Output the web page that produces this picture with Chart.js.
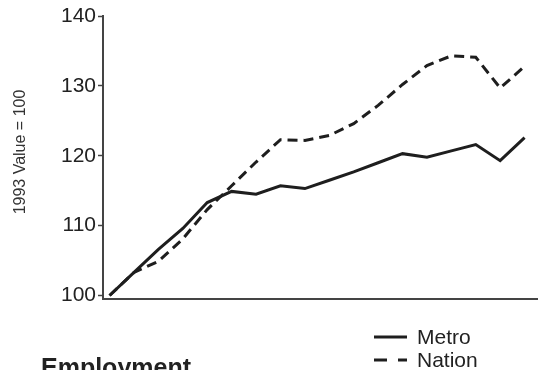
<!DOCTYPE html>
<html>
<head>
<meta charset="utf-8">
<script src="https://cdn.jsdelivr.net/npm/chart.js@4"></script>
<style>
  html, body { margin: 0; padding: 0; background: #ffffff; }
  #wrap { width: 538px; height: 370px; position: relative; overflow: hidden; }
</style>
</head>
<body>
<div id="wrap"><canvas id="c" width="538" height="370"></canvas></div>
<script>
const years = [1993, 1994, 1995, 1996, 1997, 1998, 1999, 2000, 2001, 2002, 2003, 2004, 2005, 2006, 2007, 2008, 2009, 2010];
const metro = [100, 103.3, 106.6, 109.6, 113.3, 114.9, 114.5, 115.7, 115.3, 116.5, 117.7, 119.0, 120.3, 119.8, 120.7, 121.6, 119.3, 122.6];
const nation = [100, 103.3, 104.9, 108.1, 112.3, 115.7, 119.1, 122.3, 122.2, 122.9, 124.6, 127.2, 130.2, 132.9, 134.3, 134.1, 129.7, 132.8];
const yTicks = [100, 110, 120, 130, 140];
const seriesNames = ['Metro', 'Nation'];
const chartTitle = 'Employment';
const yAxisTitle = '1993 Value = 100';

const INK = '#1e1e1e';
const FONT = "'Liberation Sans', Arial, Helvetica, sans-serif";

const annotPlugin = {
  id: 'annot',
  afterDraw(chart) {
    const ctx = chart.ctx;
    ctx.save();
    // y axis title
    ctx.save();
    ctx.translate(21, 152);
    ctx.rotate(-Math.PI / 2);
    ctx.fillStyle = '#333';
    ctx.font = '16px ' + FONT;
    ctx.textAlign = 'center';
    ctx.textBaseline = 'middle';
    ctx.fillText(yAxisTitle, 0, 0);
    ctx.restore();
    // legend
    const legendX0 = 374, legendX1 = 407, legendTextX = 417;
    const rowY = [337, 360];
    chart.data.datasets.forEach((ds, i) => {
      const y = rowY[i];
      ctx.beginPath();
      ctx.strokeStyle = ds.borderColor;
      ctx.lineWidth = 3;
      ctx.lineCap = 'butt';
      ctx.setLineDash(i === 1 ? [13, 11] : []);
      ctx.moveTo(legendX0, y);
      ctx.lineTo(legendX1, y);
      ctx.stroke();
      ctx.setLineDash([]);
      ctx.fillStyle = '#222';
      ctx.font = '21px ' + FONT;
      ctx.textBaseline = 'middle';
      ctx.textAlign = 'left';
      ctx.fillText(ds.label, legendTextX, y + 1);
    });
    // title (cut off at bottom as in the reference)
    ctx.fillStyle = '#222';
    ctx.font = 'bold 25px ' + FONT;
    ctx.textBaseline = 'alphabetic';
    ctx.textAlign = 'left';
    ctx.fillText(chartTitle, 41, 376);
    ctx.restore();
  }
};

new Chart(document.getElementById('c'), {
  type: 'line',
  data: {
    datasets: [
      {
        label: seriesNames[0],
        data: years.map((yr, i) => ({ x: yr, y: metro[i] })),
        borderColor: INK,
        borderWidth: 3,
        pointRadius: 0,
        tension: 0,
        fill: false
      },
      {
        label: seriesNames[1],
        data: years.map((yr, i) => ({ x: yr, y: nation[i] })),
        borderColor: INK,
        borderWidth: 3,
        borderDash: [10, 6],
        pointRadius: 0,
        tension: 0,
        fill: false
      }
    ]
  },
  options: {
    responsive: false,
    animation: false,
    devicePixelRatio: 1,
    layout: { padding: { top: 16, right: 0, bottom: 63, left: 0 } },
    plugins: { legend: { display: false }, tooltip: { enabled: false }, title: { display: false } },
    scales: {
      x: {
        type: 'linear',
        min: 1992.73,
        max: 2010.55,
        grid: { display: false },
        ticks: { display: false },
        border: { display: true, color: '#444', width: 2 }
      },
      y: {
        type: 'linear',
        min: 99.5,
        max: 140,
        afterBuildTicks: (s) => { s.ticks = yTicks.map(v => ({ value: v })); },
        afterFit: (s) => { s.width = 103; },
        grid: { drawOnChartArea: false, drawTicks: true, tickLength: 5, color: '#444', tickWidth: 1.5 },
        border: { display: true, color: '#444', width: 2 },
        ticks: { font: { family: FONT, size: 21 }, color: '#222', padding: 2 }
      }
    }
  },
  plugins: [annotPlugin]
});
</script>
</body>
</html>
